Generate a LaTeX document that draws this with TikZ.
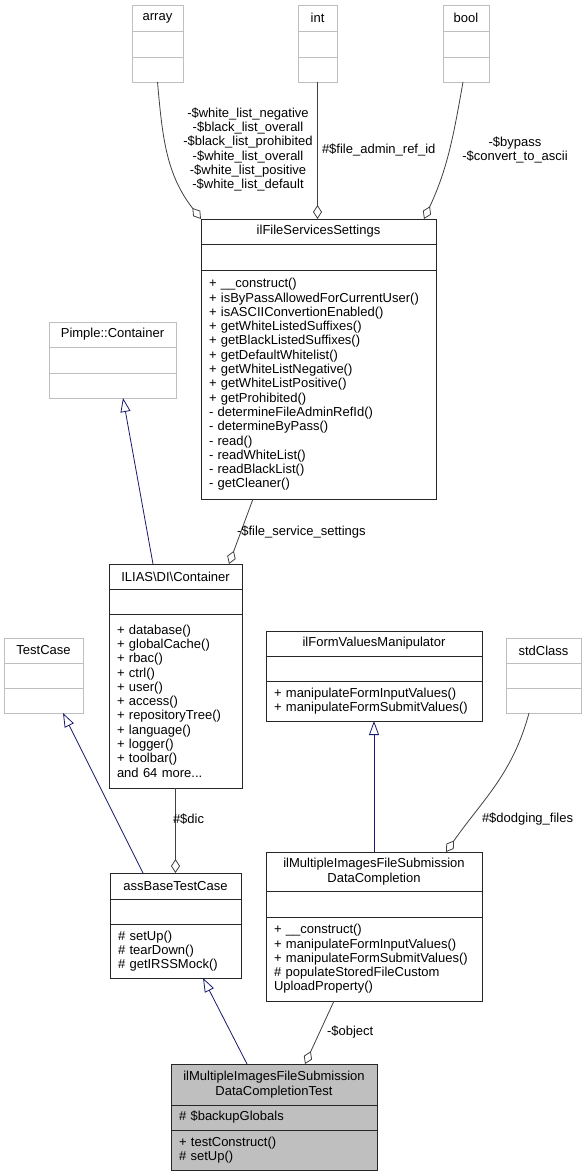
\documentclass[tikz,border=0pt]{standalone}
\usepackage{fontspec}
\setmainfont{Liberation Sans}
\usetikzlibrary{arrows.meta,positioning}
\definecolor{extgray}{HTML}{BFBFBF}
\definecolor{edgegray}{HTML}{404040}
\definecolor{inhblue}{HTML}{191970}

\begin{document}
\begin{tikzpicture}[x=1pt,y=1pt,
    font=\fontsize{13pt}{14.3pt}\selectfont,
    every node/.append style={inner sep=0pt,outer sep=0pt},
    cls/.style={draw=black!85,line width=0.9pt,fill=white,inner xsep=8pt,align=left},
    ext/.style={cls,draw=extgray},
    title/.style={align=center},
    usage/.style={draw=edgegray,line width=0.8pt,-{Diamond[open,length=14pt,width=9pt]}},
    inherit/.style={draw=inhblue,line width=0.8pt,-{Triangle[open,length=14pt,width=10pt]}}]
    \useasboundingbox[fill=white] (0,0) rectangle (586,-1176);

    % top row: plain types
    \node[ext,title,text width=35pt,minimum height=26pt,anchor=north west] at (132,-5) (array) {array};
    \node[ext,text width=35pt,minimum height=26pt,below=0pt of array] (arrayA) {};
    \node[ext,text width=35pt,minimum height=25pt,below=0pt of arrayA] (arrayM) {};

    \node[ext,title,text width=23pt,minimum height=26pt,anchor=north west] at (298,-5) (int) {int};
    \node[ext,text width=23pt,minimum height=26pt,below=0pt of int] (intA) {};
    \node[ext,text width=23pt,minimum height=25pt,below=0pt of intA] (intM) {};

    \node[ext,title,text width=30pt,minimum height=26pt,anchor=north west] at (443,-5) (bool) {bool};
    \node[ext,text width=30pt,minimum height=26pt,below=0pt of bool] (boolA) {};
    \node[ext,text width=30pt,minimum height=25pt,below=0pt of boolA] (boolM) {};

    \node[cls,title,text width=219pt,minimum height=25pt,anchor=north west] at (201,-219)
      (settings) {ilFileServicesSettings};
    \node[cls,text width=219pt,minimum height=26pt,below=0pt of settings] (settingsA) {};
    \node[cls,text width=219pt,minimum height=229pt,below=0pt of settingsA] (settingsM)
      {+ \_\_construct()\\+ isByPassAllowedForCurrentUser()\\+ isASCIIConvertionEnabled()\\
       + getWhiteListedSuffixes()\\+ getBlackListedSuffixes()\\+ getDefaultWhitelist()\\
       + getWhiteListNegative()\\+ getWhiteListPositive()\\+ getProhibited()\\
       - determineFileAdminRefId()\\- determineByPass()\\- read()\\- readWhiteList()\\
       - readBlackList()\\- getCleaner()};

    \node[ext,title,text width=111pt,minimum height=25pt,anchor=north west] at (49,-322)
      (pimple) {Pimple::Container};
    \node[ext,text width=111pt,minimum height=26pt,below=0pt of pimple] (pimpleA) {};
    \node[ext,text width=111pt,minimum height=25pt,below=0pt of pimpleA] (pimpleM) {};

    \node[cls,title,text width=117pt,minimum height=25pt,anchor=north west] at (109,-564)
      (ilias) {ILIAS\textbackslash DI\textbackslash Container};
    \node[cls,text width=117pt,minimum height=25pt,below=0pt of ilias] (iliasA) {};
    \node[cls,text width=117pt,minimum height=174pt,below=0pt of iliasA] (iliasM)
      {+ database()\\+ globalCache()\\+ rbac()\\+ ctrl()\\+ user()\\+ access()\\
       + repositoryTree()\\+ language()\\+ logger()\\+ toolbar()\\and 64 more...};

    \node[ext,title,text width=63pt,minimum height=25pt,anchor=north west] at (4,-638)
      (testcase) {TestCase};
    \node[ext,text width=63pt,minimum height=25pt,below=0pt of testcase] (testcaseA) {};
    \node[ext,text width=63pt,minimum height=25pt,below=0pt of testcaseA] (testcaseM) {};

    \node[cls,title,text width=200pt,minimum height=25pt,anchor=north west] at (266,-631)
      (form) {ilFormValuesManipulator};
    \node[cls,text width=200pt,minimum height=25pt,below=0pt of form] (formA) {};
    \node[cls,text width=200pt,minimum height=40pt,below=0pt of formA] (formM)
      {+ manipulateFormInputValues()\\+ manipulateFormSubmitValues()};

    \node[ext,title,text width=59pt,minimum height=25pt,anchor=north west] at (506,-638)
      (std) {stdClass};
    \node[ext,text width=59pt,minimum height=25pt,below=0pt of std] (stdA) {};
    \node[ext,text width=59pt,minimum height=25pt,below=0pt of stdA] (stdM) {};

    \node[cls,title,text width=115pt,minimum height=26pt,anchor=north west] at (110,-873)
      (assbase) {assBaseTestCase};
    \node[cls,text width=115pt,minimum height=25pt,below=0pt of assbase] (assbaseA) {};
    \node[cls,text width=115pt,minimum height=54pt,below=0pt of assbaseA] (assbaseM)
      {\# setUp()\\\# tearDown()\\\# getIRSSMock()};

    \node[cls,title,text width=200pt,minimum height=39pt,anchor=north west] at (266,-852)
      (datacomp) {ilMultipleImagesFileSubmission\\DataCompletion};
    \node[cls,text width=200pt,minimum height=26pt,below=0pt of datacomp] (datacompA) {};
    \node[cls,text width=200pt,minimum height=84pt,below=0pt of datacompA] (datacompM)
      {+ \_\_construct()\\+ manipulateFormInputValues()\\+ manipulateFormSubmitValues()\\
       \# populateStoredFileCustom\\UploadProperty()};

    \node[cls,title,fill=extgray,text width=190pt,minimum height=41pt,anchor=north west] at (171,-1064)
      (test) {ilMultipleImagesFileSubmission\\DataCompletionTest};
    \node[cls,fill=extgray,text width=190pt,minimum height=25pt,below=0pt of test] (testA)
      {\# \$backupGlobals};
    \node[cls,fill=extgray,text width=190pt,minimum height=40pt,below=0pt of testA] (testM)
      {+ testConstruct()\\\# setUp()};

    % connectors
    \draw[usage] (arrayM.south) to[out=-85,in=128] (settings.north west);
    \draw[usage] (intM.south) -- (intM.south |- settings.north);
    \draw[usage] ([xshift=-3pt]boolM.south) to[out=-100,in=65] ([xshift=-12pt]settings.north east);
    \draw[usage] ([xshift=52pt]settingsM.south west) -- ([xshift=-13pt]ilias.north east);
    \draw[inherit] ([xshift=44pt]ilias.north west) -- ([xshift=10.5pt]pimpleM.south);
    \draw[usage] (iliasM.south) -- (iliasM.south |- assbase.north);
    \draw[inherit] ([xshift=33pt]assbase.north west) -- ([xshift=19.5pt]testcaseM.south);
    \draw[inherit] (datacomp.north) -- (formM.south);
    \draw[usage] ([xshift=-14.5pt]stdM.south) to[out=-105,in=55] ([xshift=-36pt]datacomp.north east);
    \draw[usage] ([xshift=68pt]datacompM.south west) -- ([xshift=134pt]test.north west);
    \draw[inherit] ([xshift=76pt]test.north west) -- ([xshift=93pt]assbaseM.south west);

    % member labels
    \node[align=center] (arraylbl) at (248,-149.5)
      {-\$white\_list\_negative\\-\$black\_list\_overall\\-\$black\_list\_prohibited\\
       -\$white\_list\_overall\\-\$white\_list\_positive\\-\$white\_list\_default};
    \node[anchor=west] (intlbl) at (322,-150) {\#\$file\_admin\_ref\_id};
    \node[align=center] (boollbl) at (515,-150) {-\$bypass\\-\$convert\_to\_ascii};
    \node[anchor=west] (settingslbl) at (237,-532) {-\$file\_service\_settings};
    \node[anchor=west] (diclbl) at (173,-819) {\#\$dic};
    \node[anchor=west] (dodginglbl) at (482,-819) {\#\$dodging\_files};
    \node[anchor=west] (objectlbl) at (327,-1032) {-\$object};
\end{tikzpicture}
\end{document}
